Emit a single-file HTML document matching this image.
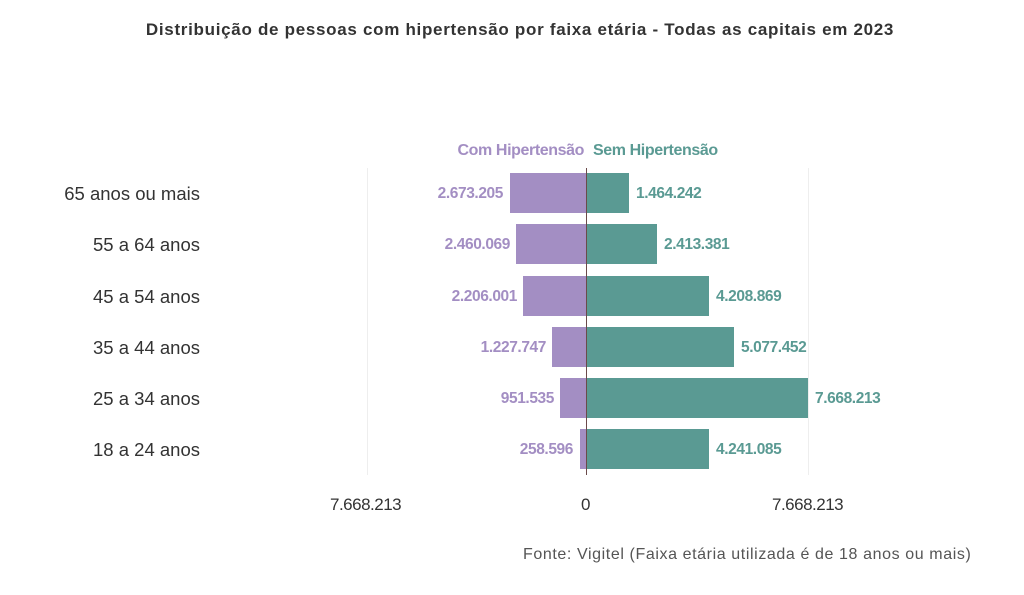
<!DOCTYPE html>
<html><head><meta charset="utf-8"><style>
body{margin:0;width:1024px;height:595px;background:#fff;font-family:"Liberation Sans",sans-serif;position:relative;overflow:hidden}
.a{position:absolute;white-space:nowrap}
.bar{position:absolute;height:40px}
.p{background:#a38ec3}.t{background:#5a9a93}
.lp{color:#a38ec3;font-weight:bold;font-size:15.5px;letter-spacing:-0.4px}
.lt{color:#5a9a93;font-weight:bold;font-size:15.5px;letter-spacing:-0.4px}
.cat{font-size:18.5px;color:#333;text-align:right;width:200px;left:0px}
.ax{font-size:17px;color:#333;letter-spacing:-0.5px}
</style></head><body>
<div class="a" style="left:0;width:1040px;top:20px;text-align:center;font-weight:bold;font-size:17px;color:#333;letter-spacing:0.7px">Distribuição de pessoas com hipertensão por faixa etária - Todas as capitais em 2023</div>
<div class="a" style="left:367px;top:168px;width:1px;height:307px;background:#eee"></div>
<div class="a" style="left:808px;top:168px;width:1px;height:307px;background:#eee"></div>
<div class="a lp" style="right:440px;top:142px;font-size:16px">Com Hipertensão</div>
<div class="a lt" style="left:593px;top:142px;font-size:16px">Sem Hipertensão</div>

<div class="a cat" style="top:183px">65 anos ou mais</div>
<div class="a cat" style="top:234px">55 a 64 anos</div>
<div class="a cat" style="top:286px">45 a 54 anos</div>
<div class="a cat" style="top:337px">35 a 44 anos</div>
<div class="a cat" style="top:388px">25 a 34 anos</div>
<div class="a cat" style="top:439px">18 a 24 anos</div>

<div class="bar p" style="left:510px;width:77px;top:173px"></div>
<div class="bar t" style="left:587px;width:42px;top:173px"></div>
<div class="bar p" style="left:516px;width:71px;top:224px"></div>
<div class="bar t" style="left:587px;width:70px;top:224px"></div>
<div class="bar p" style="left:523px;width:64px;top:276px"></div>
<div class="bar t" style="left:587px;width:122px;top:276px"></div>
<div class="bar p" style="left:552px;width:35px;top:327px"></div>
<div class="bar t" style="left:587px;width:147px;top:327px"></div>
<div class="bar p" style="left:560px;width:27px;top:378px"></div>
<div class="bar t" style="left:587px;width:221px;top:378px"></div>
<div class="bar p" style="left:580px;width:7px;top:429px"></div>
<div class="bar t" style="left:587px;width:122px;top:429px"></div>
<div class="a" style="left:586px;top:168px;width:1px;height:307px;background:#6b4a4a"></div>

<div class="a lp" style="right:521px;top:185px">2.673.205</div>
<div class="a lt" style="left:636px;top:185px">1.464.242</div>
<div class="a lp" style="right:514px;top:236px">2.460.069</div>
<div class="a lt" style="left:664px;top:236px">2.413.381</div>
<div class="a lp" style="right:507px;top:288px">2.206.001</div>
<div class="a lt" style="left:716px;top:288px">4.208.869</div>
<div class="a lp" style="right:478px;top:339px">1.227.747</div>
<div class="a lt" style="left:741px;top:339px">5.077.452</div>
<div class="a lp" style="right:470px;top:390px">951.535</div>
<div class="a lt" style="left:815px;top:390px">7.668.213</div>
<div class="a lp" style="right:451px;top:441px">258.596</div>
<div class="a lt" style="left:716px;top:441px">4.241.085</div>

<div class="a ax" style="left:330px;top:495px">7.668.213</div>
<div class="a ax" style="left:581px;top:495px">0</div>
<div class="a ax" style="left:772px;top:495px">7.668.213</div>
<div class="a" style="left:523px;top:546px;font-size:16px;color:#555;letter-spacing:0.6px">Fonte: Vigitel (Faixa etária utilizada é de 18 anos ou mais)</div>
</body></html>
